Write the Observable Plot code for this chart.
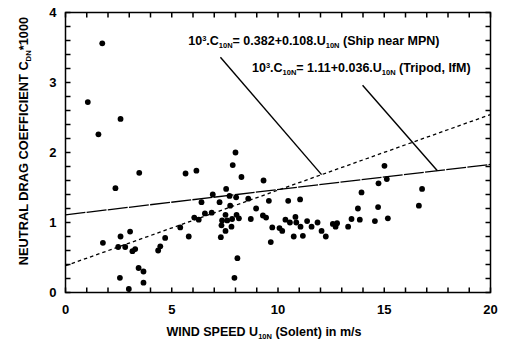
<!DOCTYPE html>
<html>
<head>
<meta charset="utf-8">
<script src="https://cdn.jsdelivr.net/npm/d3@7"></script>
<script src="https://cdn.jsdelivr.net/npm/@observablehq/plot@0.6"></script>
<style>
  body { margin: 0; background: #fff; }
  #chart svg { font-family: "Liberation Sans", Arial, Helvetica, sans-serif; font-weight: bold; }
</style>
</head>
<body>
<div id="chart"></div>
<script>
// Wind speed U10N (m/s) and neutral drag coefficient CDN*1000
const windSpeed = [
  1.73, 1.05, 2.59, 1.55, 3.47, 2.35, 1.76, 2.59, 3.04, 2.48, 2.81, 3.28, 3.15, 4.46, 4.36, 4.69, 3.44, 3.67, 2.56, 3.67, 2.98,
  8.00, 7.87, 5.65, 6.16, 8.28, 9.32, 7.56, 6.93, 6.40, 7.25, 7.72, 8.03, 7.75, 8.60, 8.97, 6.56, 6.88, 6.06, 6.27, 5.40,
  5.80, 7.53, 8.05, 8.16, 7.37, 7.34, 7.61, 7.84, 7.53, 7.81, 7.31, 8.72, 9.29, 8.09, 7.95,
  9.57, 10.48, 11.04, 13.93, 9.44, 9.73, 10.07, 10.20, 10.35, 10.56, 10.82, 10.86, 11.06, 11.37, 11.58, 11.86, 10.74, 11.17,
  12.05, 12.25, 12.58, 12.71, 12.78, 13.30, 13.46, 13.85, 13.76, 9.66,
  15.01, 14.73, 15.12, 16.78, 16.63, 14.71, 14.56, 15.17
];
const dragCoef = [
  3.56, 2.72, 2.48, 2.26, 1.71, 1.49, 0.71, 0.80, 0.87, 0.65, 0.65, 0.62, 0.59, 0.66, 0.60, 0.78, 0.35, 0.30, 0.21, 0.14, 0.05,
  2.00, 1.82, 1.70, 1.74, 1.65, 1.60, 1.48, 1.40, 1.29, 1.29, 1.38, 1.36, 1.24, 1.34, 1.20, 1.13, 1.14, 1.07, 1.04, 0.93,
  0.80, 1.11, 1.11, 1.06, 1.03, 0.96, 1.03, 1.05, 0.88, 0.94, 0.79, 1.05, 1.10, 0.49, 0.21,
  1.31, 1.31, 1.33, 1.43, 1.07, 0.93, 0.92, 0.88, 1.04, 1.00, 1.08, 1.00, 0.94, 1.02, 0.94, 1.00, 0.80, 0.81,
  0.88, 0.80, 0.98, 0.94, 0.99, 0.94, 1.05, 1.04, 1.20, 0.72,
  1.81, 1.56, 1.62, 1.48, 1.24, 1.22, 1.02, 1.06
];

// Axis ticks and labels
const xDomain = [0, 20];
const yDomain = [0, 4];
const xTickLabels = [0, 5, 10, 15, 20];
const yTickLabels = [0, 1, 2, 3, 4];
const xMinorTicks = d3.range(0, 21, 1);
const yMinorTicks = d3.range(0, 21, 1).map(i => i * 0.2);

// Linear fits 10^3.C10N = a + b.U10N
const fitNames = ["ship", "tripod"];
const fitIntercepts = [0.382, 1.11];
const fitSlopes = [0.108, 0.036];
const fitDash = ["3.5,3", "20,1.3"];

// Leader lines: from the annotation (data coords) to a wind speed on the fit line
const leaderStartU = [7.29, 13.98];
const leaderStartC = [3.36, 2.96];
const leaderEndU = [12.05, 17.5];

// Annotation anchors (data coords)
const noteU = [5.8, 8.8];
const noteC = [3.53, 3.14];
const noteIntercept = ["0.382", "1.11"];
const noteSlope = ["0.108", "0.036"];
const noteSource = ["(Ship near MPN)", "(Tripod, IfM)"];

const W = 506, H = 351;
const M = {top: 12, right: 16, bottom: 59, left: 65};
const innerW = W - M.left - M.right;
const innerH = H - M.top - M.bottom;
const tickLen = 5; // px, drawn inward from each side of the frame

// tick length expressed in data units of each axis
const tickDU = tickLen * (xDomain[1] - xDomain[0]) / innerW;
const tickDC = tickLen * (yDomain[1] - yDomain[0]) / innerH;

const points = windSpeed.map((u, i) => ({u, c: dragCoef[i]}));
const fits = fitNames.map((name, i) => ({name, a: fitIntercepts[i], b: fitSlopes[i], dash: fitDash[i]}));
const leaders = fits.map((f, i) => ({
  u1: leaderStartU[i], c1: leaderStartC[i],
  u2: leaderEndU[i], c2: f.a + f.b * leaderEndU[i]
}));

const tickStyle = {stroke: "#000", strokeWidth: 1.5};

const plot = Plot.plot({
  width: W, height: H,
  marginTop: M.top, marginRight: M.right, marginBottom: M.bottom, marginLeft: M.left,
  x: {domain: xDomain},
  y: {domain: yDomain},
  style: {fontFamily: '"Liberation Sans", Arial, sans-serif', fontWeight: "bold", fontSize: "13px", color: "#000"},
  marks: [
    // inward ticks on all four sides
    Plot.link(xMinorTicks, {x1: d => d, x2: d => d, y1: () => yDomain[0], y2: () => yDomain[0] + tickDC, ...tickStyle}),
    Plot.link(xMinorTicks, {x1: d => d, x2: d => d, y1: () => yDomain[1], y2: () => yDomain[1] - tickDC, ...tickStyle}),
    Plot.link(yMinorTicks, {y1: d => d, y2: d => d, x1: () => xDomain[0], x2: () => xDomain[0] + tickDU, ...tickStyle}),
    Plot.link(yMinorTicks, {y1: d => d, y2: d => d, x1: () => xDomain[1], x2: () => xDomain[1] - tickDU, ...tickStyle}),
    Plot.axisX(xTickLabels, {tickSize: 0, tickPadding: 12, label: null, fontSize: 13, fontWeight: "bold", tickFormat: d3.format("d")}),
    Plot.axisY(yTickLabels, {tickSize: 0, tickPadding: 9, label: null, fontSize: 13, fontWeight: "bold", tickFormat: d3.format("d")}),
    // fit lines across the full wind-speed range
    ...fits.map(f => Plot.link([f], {
      x1: () => xDomain[0], x2: () => xDomain[1],
      y1: d => d.a + d.b * xDomain[0], y2: d => d.a + d.b * xDomain[1],
      stroke: "#000", strokeWidth: 1.3, strokeDasharray: f.dash
    })),
    Plot.link(leaders, {x1: "u1", y1: "c1", x2: "u2", y2: "c2", stroke: "#000", strokeWidth: 1.4}),
    Plot.dot(points, {x: "u", y: "c", r: 2.9, fill: "#000", stroke: "none"}),
    Plot.frame({stroke: "#000", strokeWidth: 1.5})
  ]
});

document.getElementById("chart").append(plot);

// Rich text labels with sub/superscripts, placed with the plot's own scales
const sx = d3.scaleLinear(plot.scale("x").domain, plot.scale("x").range);
const sy = d3.scaleLinear(plot.scale("y").domain, plot.scale("y").range);
const svg = d3.select(plot);

function richText(parent, parts, attrs) {
  const t = parent.append("text").attr("fill", "#000").attr("font-weight", "bold").attr("text-anchor", "start");
  for (const [k, v] of Object.entries(attrs)) t.attr(k, v);
  let shift = 0;
  for (const [s, kind] of parts) {
    const target = kind === "sub" ? 2.8 : kind === "sup" ? -4.3 : 0;
    const ts = t.append("tspan").text(s).attr("dy", target - shift);
    if (kind) ts.attr("font-size", "0.6em");
    shift = target;
  }
  return t;
}

noteU.forEach((u, i) => {
  richText(svg, [
    ["10"], ["3", "sup"], [".C"], ["10N", "sub"],
    ["= " + noteIntercept[i] + "+" + noteSlope[i] + ".U"], ["10N", "sub"],
    [" " + noteSource[i]]
  ], {x: sx(u), y: sy(noteC[i]), "font-size": 12.5});
});

richText(svg, [["WIND SPEED U"], ["10N", "sub"], [" (Solent) in m/s"]],
  {x: 264, y: 336, "text-anchor": "middle", "font-size": 12.5});

richText(svg, [["NEUTRAL DRAG COEFFICIENT C"], ["DN", "sub"], ["*1000"]],
  {transform: "translate(28,141) rotate(-90)", "text-anchor": "middle", "font-size": 12.8});
</script>
</body>
</html>
